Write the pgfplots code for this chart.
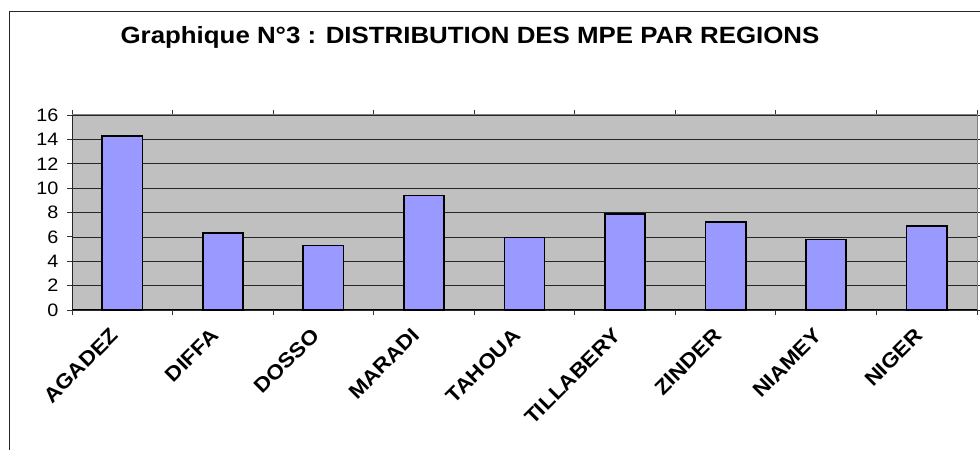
\documentclass[border=0pt]{standalone}
\usepackage{pgfplots}
\pgfplotsset{compat=1.18}
\usepackage{fontspec}
\setmainfont[FakeStretch=1.1]{Liberation Sans}
\definecolor{barblue}{HTML}{9999FF}
\definecolor{plotgray}{HTML}{C0C0C0}
\definecolor{framegray}{HTML}{808080}
\begin{document}
\begin{tikzpicture}
\begin{axis}[
  at={(72bp,140bp)}, anchor=south west,
  scale only axis, width=905bp, height=195bp,
  xmin=-0.5, xmax=8.5, ymin=0, ymax=16,
  axis background/.style={fill=plotgray},
  axis line style={draw=framegray, line width=1bp},
  ybar, bar width=0.4,
  ytick={0,2,...,16},
  ymajorgrids, major grid style={black!85, line width=0.7bp},
  xtick={0,...,8},
  xticklabels={AGADEZ,DIFFA,DOSSO,MARADI,TAHOUA,TILLABERY,ZINDER,NIAMEY,NIGER},
  minor xtick={-0.5,0.5,...,8.5},
  major x tick style={draw=none},
  minor x tick style={black!80, line width=0.8bp},
  y tick style={black!80, line width=0.8bp},
  tick align=outside,
  major tick length=5bp, minor tick length=5bp,
  /pgf/number format/assume math mode=true,
  yticklabel style={font=\fontsize{18bp}{20bp}\selectfont, xshift=-5bp},
  xticklabel style={font=\bfseries\fontsize{20.5bp}{22bp}\selectfont,
    yshift=-7bp, xshift=-13bp, rotate=45, anchor=north east},
  clip=false,
]
\addplot[fill=barblue, draw=black, line width=1.6bp] coordinates {
  (0,14.3) (1,6.3) (2,5.3) (3,9.4) (4,5.95) (5,7.9) (6,7.2) (7,5.8) (8,6.9)
};
\draw[black!85, line width=1bp] (rel axis cs:0,0) -- (rel axis cs:0,1);
\draw[black, line width=1bp] (rel axis cs:0,0) -- (rel axis cs:1,0);
\end{axis}
\node[anchor=base, font=\bfseries\fontsize{23.5bp}{26bp}\selectfont] at (470bp,406bp)
  {Graphique N°3 : DISTRIBUTION DES MPE PAR REGIONS};
\draw[black!85, line width=1bp] (9bp,-5bp) -- (9bp,438bp) -- (990bp,438bp);
\pgfresetboundingbox
\path[use as bounding box] (0,0) rectangle (980bp,450bp);
\end{tikzpicture}
\end{document}
